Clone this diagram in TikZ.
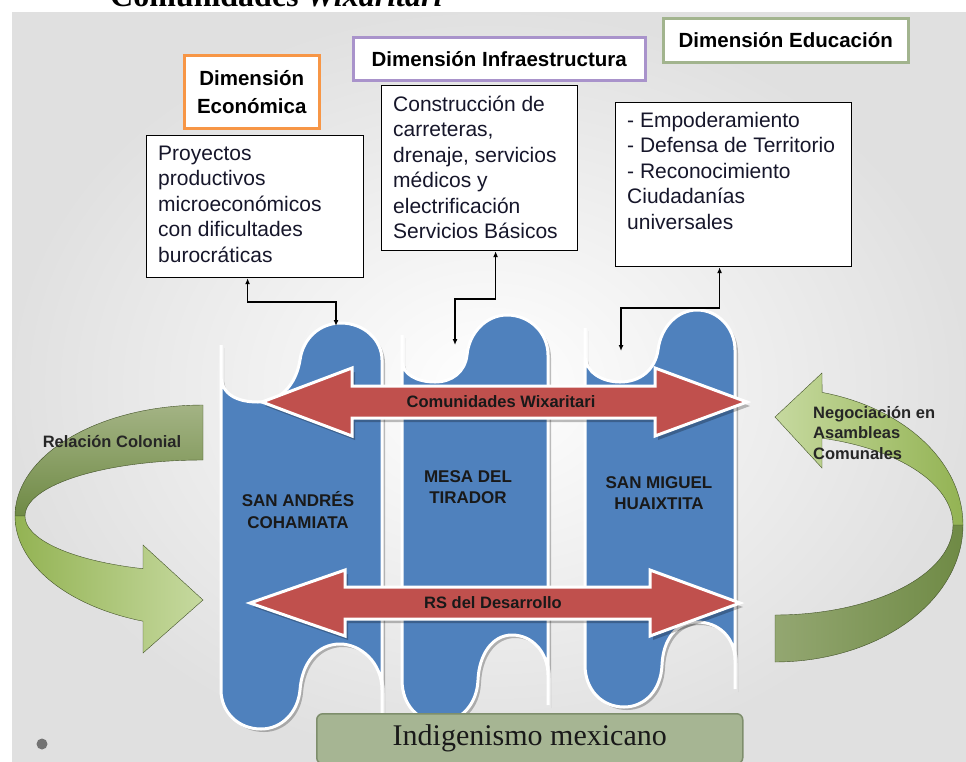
\documentclass[tikz,border=0pt]{standalone}
\usepackage{fontspec}
\setmainfont{Liberation Sans}
\newfontfamily\serifft{Liberation Serif}
\usetikzlibrary{arrows.meta}
\definecolor{colblue}{HTML}{4F81BD}
\definecolor{arrred}{HTML}{C0504D}
\definecolor{indgreen}{HTML}{A6B593}
\definecolor{indborder}{HTML}{7E8E6C}
\definecolor{hdorange}{HTML}{F79646}
\definecolor{hdpurple}{HTML}{A993CB}
\definecolor{hdgreen}{HTML}{A2B48E}
\definecolor{txtdark}{HTML}{16162A}
\definecolor{gdark1}{HTML}{6F8A45}
\definecolor{gdark2}{HTML}{A3B384}
\definecolor{glight1}{HTML}{93B353}
\definecolor{glight2}{HTML}{C6D99F}
\newcommand\drawdbl[8]{\path[#1] (#2,#6) -- (#3,{#6-#8}) -- (#3,{#6-#7}) -- (#4,{#6-#7}) -- (#4,{#6-#8}) -- (#5,#6) -- (#4,{#6+#8}) -- (#4,{#6+#7}) -- (#3,{#6+#7}) -- (#3,{#6+#8}) -- cycle;}
\newcommand\colone[1]{\path[#1] (221,345) -- (221,375) .. controls (221,395) and (238,402) .. (258,402) .. controls (280,402) and (296,385) .. (300,360) .. controls (303,338) and (320,323) .. (341,323) .. controls (364,323) and (382,340) .. (382,360) -- (382,715) -- (382,690) .. controls (382,662) and (360,644) .. (340,644) .. controls (318,644) and (302,662) .. (300,690) .. controls (298,712) and (282,729) .. (261,729) .. controls (238,729) and (221,712) .. (221,690) -- cycle;}
\newcommand\coltwo[1]{\path[#1] (402,335) -- (402,360) .. controls (402,375) and (418,382) .. (435,382) .. controls (452,382) and (465,372) .. (467,355) .. controls (469,333) and (486,315) .. (507,315) .. controls (530,315) and (548,333) .. (548,355) -- (548,705) -- (548,675) .. controls (548,652) and (532,635) .. (512,635) .. controls (492,635) and (479,655) .. (478,680) .. controls (477,705) and (460,722) .. (440,722) .. controls (418,722) and (402,705) .. (402,680) -- cycle;}
\newcommand\colthree[1]{\path[#1] (585,328) -- (585,355) .. controls (585,372) and (602,382) .. (620,382) .. controls (640,382) and (655,370) .. (658,350) .. controls (661,326) and (678,310) .. (697,310) .. controls (718,310) and (735,328) .. (735,350) -- (735,689) -- (735,660) .. controls (735,637) and (718,622) .. (697,622) .. controls (676,622) and (663,640) .. (662,665) .. controls (661,690) and (645,707) .. (624,707) .. controls (602,707) and (585,690) .. (585,665) -- cycle;}
\begin{document}
\begin{tikzpicture}[x=1pt,y=-1pt,
  hdbox/.style={draw, line width=2.5pt, fill=white, inner sep=0pt, font=\fontsize{20.5}{28}\selectfont\bfseries, align=center, text=black, anchor=north west},
  ctbox/.style={draw=black, line width=1.2pt, fill=white, inner sep=0pt, anchor=north west},
  bodytxt/.style={anchor=base west, inner sep=0pt, text=txtdark, font=\fontsize{21}{25.5}\selectfont},
  conn/.style={{Latex[length=6pt,width=5pt]}-{Latex[length=6pt,width=5pt]}, line width=1.2pt},
  colfill/.style={fill=colblue, draw=white, line width=3pt},
  shadowfill/.style={fill=black, opacity=0.25, draw=none},
  redarr/.style={fill=arrred, draw=white, line width=3pt},
  collabel/.style={align=center, inner sep=0pt, font=\fontsize{17}{21.5}\selectfont\bfseries, text=black!90},
  arrlabel/.style={font=\fontsize{16.5}{18}\selectfont\bfseries, text=black!90, inner sep=0pt},
  greenlabel/.style={font=\fontsize{16.5}{20.5}\selectfont\bfseries, text=black!85, inner sep=0pt},
  goutline/.style={draw=gdark1!60!black, line width=0.4pt}
]
\useasboundingbox (0,0) rectangle (966,761);
% slide background
\shade[inner color=white, outer color=black!12] (12,12) rectangle (966,761);
% title (cut by the page top)
\node[anchor=base west, inner sep=0pt, font=\serifft\fontsize{32}{32}\selectfont\bfseries] (title) at (110,6) {Comunidades \textit{Wixaritari}};
% header boxes
\node[hdbox, draw=hdorange, minimum width=135pt, minimum height=73pt] (hecon) at (183,54) {Dimensión\\Económica};
\node[hdbox, draw=hdpurple, minimum width=292pt, minimum height=43pt] (hinfra) at (352,36) {Dimensión Infraestructura};
\node[hdbox, draw=hdgreen, minimum width=245pt, minimum height=44pt] (heduc) at (662,17) {Dimensión Educación};
% content boxes
\node[ctbox, minimum width=217pt, minimum height=142pt] (econ) at (146,135) {};
\node[ctbox, minimum width=196pt, minimum height=165pt] (infra) at (381,85) {};
\node[ctbox, minimum width=236pt, minimum height=164pt] (educ) at (615,102) {};
\node[bodytxt] (econtxt) at (158,160) {\parbox[t]{200pt}{\raggedright Proyectos\\productivos\\microeconómicos\\con dificultades\\burocráticas}};
\node[bodytxt] (infratxt) at (393,111) {\parbox[t]{185pt}{\raggedright Construcción de\\carreteras,\\drenaje, servicios\\médicos y\\electrificación\\Servicios Básicos}};
\node[bodytxt] (eductxt) at (627,127) {\parbox[t]{225pt}{\raggedright - Empoderamiento\\- Defensa de Territorio\\- Reconocimiento\\Ciudadanías\\universales}};
% left green curved arrow
\shade[top color=gdark2, bottom color=gdark1, goutline] (203,405) -- plot[domain=270:180, samples=40, variable=\t] ({203+188*cos(\t)},{516+111*sin(\t)}) -- (25,516) -- plot[domain=180:270, samples=40, variable=\t] ({203+178*cos(\t)},{516+56*sin(\t)}) -- cycle;
\shade[left color=glight1, right color=glight2, goutline] (15,516) -- plot[domain=180:108.6, samples=40, variable=\t] ({203+188*cos(\t)},{516+111*sin(\t)}) -- (143,653) -- (203,600) -- (143,545) -- plot[domain=109.7:180, samples=40, variable=\t] ({203+178*cos(\t)},{516+56*sin(\t)}) -- cycle;
% right green curved arrow
\shade[left color=gdark2!70!gdark1, right color=gdark1, goutline] (775,662) -- plot[domain=90:0, samples=40, variable=\t] ({775+188*cos(\t)},{525+137*sin(\t)}) -- (953,525) -- plot[domain=0:90, samples=40, variable=\t] ({775+178*cos(\t)},{525+90*sin(\t)}) -- cycle;
\shade[left color=glight2, right color=glight1, goutline] (963,525) -- plot[domain=360:284.5, samples=40, variable=\t] ({775+188*cos(\t)},{525+137*sin(\t)}) -- (822,373) -- (775,417) -- (822,468) -- plot[domain=285.3:360, samples=40, variable=\t] ({775+178*cos(\t)},{525+90*sin(\t)}) -- cycle;
\node[greenlabel, anchor=center] (rc) at (112,442) {Relación Colonial};
\node[greenlabel, anchor=base west] (neg) at (813,418) {\parbox[t]{140pt}{\raggedright Negociación en\\Asambleas\\Comunales}};
% columns
\colone{shadowfill, shift={(3,3)}}
\coltwo{shadowfill, shift={(3,3)}}
\colthree{shadowfill, shift={(3,3)}}
\colone{colfill}
\coltwo{colfill}
\colthree{colfill}
\node[collabel] (c1lab) at (298,510) {SAN ANDRÉS\\COHAMIATA};
\node[collabel] (c2lab) at (468,487) {MESA DEL\\TIRADOR};
\node[collabel] (c3lab) at (659,493) {SAN MIGUEL\\HUAIXTITA};
% red double arrows
\drawdbl{shadowfill, shift={(3,4)}}{262}{352}{655}{747}{402}{16}{34}
\drawdbl{redarr}{262}{352}{655}{747}{402}{16}{34}
\drawdbl{shadowfill, shift={(3,4)}}{250}{345}{650}{740}{603}{16}{33}
\drawdbl{redarr}{250}{345}{650}{740}{603}{16}{33}
\node[arrlabel] (lab1) at (501,402) {Comunidades Wixaritari};
\node[arrlabel] (lab2) at (493,603) {RS del Desarrollo};
% connectors
\coordinate (p1) at (336,326);
\coordinate (p2) at (455,345);
\coordinate (p3) at (621,351);
\draw[conn] (p1) -- (336,302) -| ([xshift=-7.5pt]econ.south);
\draw[conn] (p2) -- (455,299) -| ([xshift=16pt]infra.south);
\draw[conn] (p3) -- (621,308) -| ([xshift=-14pt]educ.south);
% bottom box
\node[draw=indborder, fill=indgreen, line width=1.5pt, rounded corners=6pt, minimum width=426pt, minimum height=50pt, anchor=north west, font=\serifft\fontsize{30}{30}\selectfont, text=black!90] (indig) at (316,713) {Indigenismo mexicano};
% bullet dot
\fill[black!55] (42,744) circle[radius=5.5];
\end{tikzpicture}
\end{document}
